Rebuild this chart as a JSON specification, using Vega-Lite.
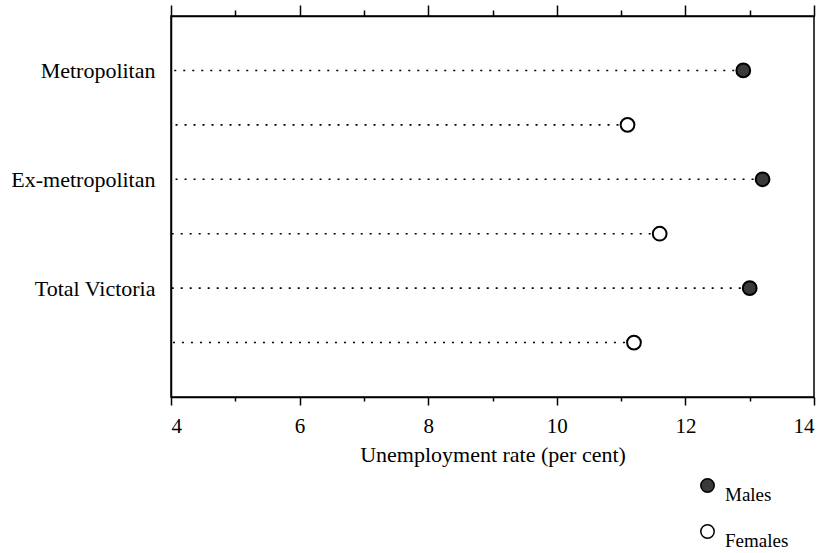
{
  "$schema": "https://vega.github.io/schema/vega-lite/v6.json",
  "autosize": "none",
  "width": 643,
  "height": 381,
  "padding": {"left": 171, "top": 16, "right": 15, "bottom": 156},
  "background": "white",
  "config": {
    "view": {"stroke": "black", "strokeWidth": 1.5},
    "font": "Liberation Serif",
    "axis": {"labelFont": "Liberation Serif", "titleFont": "Liberation Serif", "labelColor": "black", "titleColor": "black", "domainColor": "black", "tickColor": "black", "domainWidth": 1.5, "tickWidth": 1.5, "grid": false},
    "legend": {"labelFont": "Liberation Serif"}
  },
  "data": {
    "values": [
      {"row": "Metropolitan", "sex": "Males", "rate": 12.9},
      {"row": "Metropolitan (F)", "sex": "Females", "rate": 11.1},
      {"row": "Ex-metropolitan", "sex": "Males", "rate": 13.2},
      {"row": "Ex-metropolitan (F)", "sex": "Females", "rate": 11.6},
      {"row": "Total Victoria", "sex": "Males", "rate": 13.0},
      {"row": "Total Victoria (F)", "sex": "Females", "rate": 11.2}
    ]
  },
  "layer": [
    {
      "mark": {"type": "rule", "strokeDash": [2, 7], "strokeWidth": 1.6, "color": "black"},
      "encoding": {
        "y": {
          "field": "row",
          "type": "nominal",
          "sort": null,
          "scale": {"type": "point", "padding": 1},
          "axis": {
            "title": null,
            "ticks": false,
            "labelFontSize": 22,
            "labelPadding": 16,
            "labelExpr": "indexof(datum.value, '(F)') >= 0 ? '' : datum.value"
          }
        },
        "x": {
          "field": "rate",
          "type": "quantitative",
          "scale": {"domain": [4, 14], "nice": false, "zero": false},
          "axis": {
            "orient": "bottom",
            "values": [4, 5, 6, 7, 8, 9, 10, 11, 12, 13, 14],
            "labelExpr": "datum.value % 2 === 0 ? datum.label : ''",
            "tickSize": {"condition": {"test": "datum.value % 2 === 0", "value": 8}, "value": 4},
            "labelFontSize": 21,
            "labelPadding": 10,
            "title": "Unemployment rate (per cent)",
            "titleFontSize": 22,
            "titleFontWeight": "normal",
            "titlePadding": 8
          }
        },
        "x2": {"datum": 4}
      }
    },
    {
      "mark": {"type": "point", "shape": "circle", "filled": false, "size": 190, "strokeWidth": 2, "stroke": "black", "opacity": 1},
      "encoding": {
        "y": {"field": "row", "type": "nominal", "sort": null},
        "x": {
          "field": "rate",
          "type": "quantitative",
          "axis": {
            "orient": "top",
            "values": [4, 5, 6, 7, 8, 9, 10, 11, 12, 13, 14],
            "labels": false,
            "tickSize": {"condition": {"test": "datum.value % 2 === 0", "value": 11}, "value": 6},
            "title": null
          }
        },
        "fill": {
          "field": "sex",
          "type": "nominal",
          "sort": ["Males", "Females"],
          "scale": {"domain": ["Males", "Females"], "range": ["#3a3a3a", "white"]},
          "legend": {
            "title": null,
            "orient": "none",
            "legendX": 527,
            "legendY": 460,
            "symbolType": "circle",
            "symbolSize": 180,
            "symbolStrokeColor": "black",
            "symbolStrokeWidth": 1.5,
            "labelFontSize": 19,
            "labelColor": "black",
            "labelBaseline": "top",
            "labelOffset": 8,
            "rowPadding": 16
          }
        }
      }
    }
  ],
  "resolve": {"axis": {"x": "independent"}}
}
